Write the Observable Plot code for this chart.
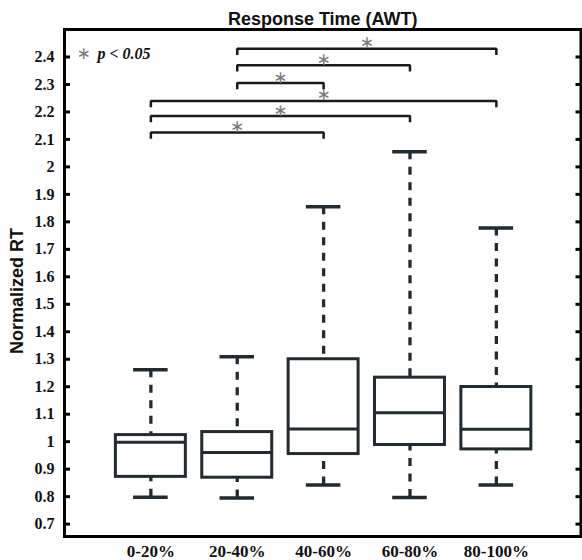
<!DOCTYPE html>
<html><head><meta charset="utf-8">
<script src="https://cdn.jsdelivr.net/npm/d3@7"></script>
<script src="https://cdn.jsdelivr.net/npm/@observablehq/plot@0.6"></script>
<style>html,body{margin:0;padding:0;background:#fff} #chart svg{display:block}</style>
</head><body><div id="chart"></div>
<script>
// ---- data ----
const categories = ["0-20%", "20-40%", "40-60%", "60-80%", "80-100%"];
const positions  = [1, 2, 3, 4, 5];
const upperCap   = [1.262, 1.309, 1.855, 2.055, 1.778];
const q3         = [1.024, 1.035, 1.300, 1.233, 1.199];
const median     = [0.998, 0.961, 1.046, 1.105, 1.045];
const q1         = [0.872, 0.869, 0.955, 0.988, 0.972];
const lowerCap   = [0.798, 0.795, 0.842, 0.797, 0.842];
const yTicks      = [0.7, 0.8, 0.9, 1.0, 1.1, 1.2, 1.3, 1.4, 1.5, 1.6, 1.7, 1.8, 1.9, 2.0, 2.1, 2.2, 2.3, 2.4];
const yTickLabels = ["0.7","0.8","0.9","1","1.1","1.2","1.3","1.4","1.5","1.6","1.7","1.8","1.9","2","2.1","2.2","2.3","2.4"];
const bracketFrom = [1, 1, 1, 2, 2, 2];
const bracketTo   = [3, 4, 5, 3, 4, 5];
const bracketY    = [2.125, 2.185, 2.24, 2.305, 2.37, 2.43];
const titleText = "Response Time (AWT)";
const yLabelText = "Normalized RT";
const legendText = "p < 0.05";
const starGlyph = "\u2217";

// ---- derived tables ----
const boxes = categories.map((c, i) => ({c, x: positions[i], hi: upperCap[i], q3: q3[i], med: median[i], q1: q1[i], lo: lowerCap[i]}));
const brackets = bracketFrom.map((a, i) => ({id: i, a, b: bracketTo[i], y: bracketY[i]}));

// ---- layout / style ----
const W = 582, H = 560, mL = 64, mR = 1.5, mT = 29, mB = 24;
const plotW = W - mL - mR;
const boxHalf = 0.405, capHalf = 0.2, legLen = 0.018;
const boxColor = "#222b30";
const serif = "'Liberation Serif','Times New Roman',serif";
const sans = "'Liberation Sans',Arial,sans-serif";

const bracketPts = brackets.flatMap(d => [
  {id: d.id, x: d.a, y: d.y - legLen},
  {id: d.id, x: d.a, y: d.y},
  {id: d.id, x: d.b, y: d.y},
  {id: d.id, x: d.b, y: d.y - legLen}
]);

const chart = Plot.plot({
  width: W, height: H,
  marginLeft: mL, marginRight: mR, marginTop: mT, marginBottom: mB,
  style: {background: "#fff", overflow: "visible"},
  x: {type: "linear", domain: [0, 5.98]},
  y: {type: "linear", domain: [0.655, 2.5]},
  marks: [
    // whiskers
    Plot.ruleX(boxes, {x: "x", y1: "hi", y2: "q3", stroke: boxColor, strokeWidth: 3.3, strokeDasharray: "8 7.5"}),
    Plot.ruleX(boxes, {x: "x", y1: "lo", y2: "q1", stroke: boxColor, strokeWidth: 3.3, strokeDasharray: "8 7.5"}),
    // boxes
    Plot.rectY(boxes, {x1: d => d.x - boxHalf, x2: d => d.x + boxHalf, y1: "q1", y2: "q3", fill: "#fff", stroke: boxColor, strokeWidth: 3}),
    // medians
    Plot.ruleY(boxes, {x1: d => d.x - boxHalf, x2: d => d.x + boxHalf, y: "med", stroke: boxColor, strokeWidth: 3}),
    // caps
    Plot.ruleY(boxes, {x1: d => d.x - capHalf, x2: d => d.x + capHalf, y: "hi", stroke: boxColor, strokeWidth: 3.5}),
    Plot.ruleY(boxes, {x1: d => d.x - capHalf, x2: d => d.x + capHalf, y: "lo", stroke: boxColor, strokeWidth: 3.5}),
    // significance brackets
    Plot.line(bracketPts, {x: "x", y: "y", z: "id", stroke: "#1a1a1a", strokeWidth: 2.5, strokeLinejoin: "miter", strokeLinecap: "square"}),
    Plot.text(brackets, {x: d => (d.a + d.b) / 2, y: "y", text: () => starGlyph, dy: -6, fill: "#7a7a7a", fontSize: 17, fontFamily: "'DejaVu Sans',sans-serif", lineAnchor: "middle"}),
    // legend
    Plot.text([starGlyph], {frameAnchor: "top-left", dx: 19, dy: 24, text: d => d, fill: "#7a7a7a", fontSize: 17, fontFamily: "'DejaVu Sans',sans-serif", lineAnchor: "middle", textAnchor: "middle"}),
    Plot.text([legendText], {frameAnchor: "top-left", dx: 33, dy: 24, text: d => d, fill: "#111", fontSize: 16, fontFamily: serif, fontWeight: "bold", fontStyle: "italic", lineAnchor: "middle", textAnchor: "start"}),
    // frame
    Plot.frame({stroke: "#000", strokeWidth: 3}),
    // inward y ticks, left and right
    Plot.ruleY(yTicks, {y: d => d, insetRight: plotW - 6, stroke: "#000", strokeWidth: 3}),
    Plot.ruleY(yTicks, {y: d => d, insetLeft: plotW - 5, stroke: "#000", strokeWidth: 3}),
    // axes
    Plot.axisY(yTicks, {anchor: "left", tickSize: 0, tickPadding: 10, tickFormat: (d, i) => yTickLabels[i], label: null, fontSize: 16, fontFamily: serif, fontWeight: "bold", fill: "#111"}),
    Plot.axisX(positions, {anchor: "bottom", tickSize: 0, tickPadding: 8, tickFormat: (d, i) => categories[i], label: null, fontSize: 17, fontFamily: serif, fontWeight: "bold", fill: "#111"}),
    // title and y label
    Plot.text([titleText], {frameAnchor: "top", dy: -5, text: d => d, lineAnchor: "bottom", fontSize: 18, fontFamily: sans, fontWeight: "bold", fill: "#111"}),
    Plot.text([yLabelText], {frameAnchor: "left", dx: -47, dy: 8, rotate: -90, text: d => d, lineAnchor: "middle", textAnchor: "middle", fontSize: 18, fontFamily: sans, fontWeight: "bold", fill: "#111"})
  ]
});
document.getElementById("chart").appendChild(chart);
</script>
</body></html>
